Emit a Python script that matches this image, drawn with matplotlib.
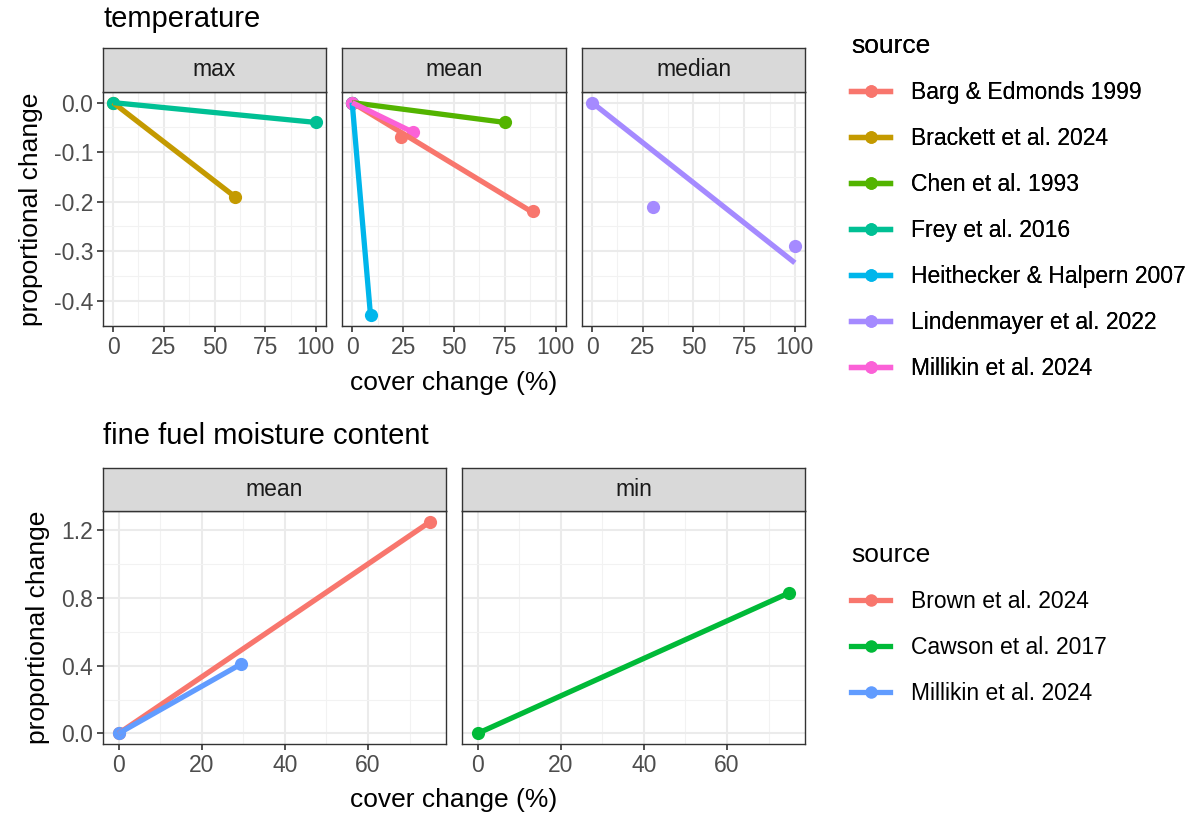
import numpy as np
import matplotlib
matplotlib.use("Agg")
import matplotlib.pyplot as plt
from matplotlib.lines import Line2D
from matplotlib.ticker import MultipleLocator

plt.rcParams['font.family'] = ['Liberation Sans', 'DejaVu Sans']

# temperature data: (panel, source, cover change %, proportional change)
temp_panels = ["max", "mean", "median"]
temp_sources = ["Barg & Edmonds 1999", "Brackett et al. 2024", "Chen et al. 1993",
                "Frey et al. 2016", "Heithecker & Halpern 2007",
                "Lindenmayer et al. 2022", "Millikin et al. 2024"]
temp_colors = ["#F8766D", "#C49A00", "#53B400", "#00C094", "#00B6EB", "#A58AFF", "#FB61D7"]
temp_panel = ["max", "max", "max", "max",
              "mean", "mean", "mean", "mean", "mean", "mean", "mean", "mean", "mean",
              "median", "median", "median"]
temp_source = ["Brackett et al. 2024", "Brackett et al. 2024", "Frey et al. 2016", "Frey et al. 2016",
               "Barg & Edmonds 1999", "Barg & Edmonds 1999", "Barg & Edmonds 1999",
               "Chen et al. 1993", "Chen et al. 1993",
               "Heithecker & Halpern 2007", "Heithecker & Halpern 2007",
               "Millikin et al. 2024", "Millikin et al. 2024",
               "Lindenmayer et al. 2022", "Lindenmayer et al. 2022", "Lindenmayer et al. 2022"]
temp_cover = [0, 60, 0, 100, 0, 24, 89, 0, 75, 0, 9, 0, 30, 0, 30, 100]
temp_change = [0, -0.19, 0, -0.04, 0, -0.07, -0.22, 0, -0.04, 0, -0.43, 0, -0.06, 0, -0.21, -0.29]

# fine fuel moisture content data
ffmc_panels = ["mean", "min"]
ffmc_sources = ["Brown et al. 2024", "Cawson et al. 2017", "Millikin et al. 2024"]
ffmc_colors = ["#F8766D", "#00BA38", "#619CFF"]
ffmc_panel = ["mean", "mean", "mean", "mean", "min", "min"]
ffmc_source = ["Brown et al. 2024", "Brown et al. 2024", "Millikin et al. 2024", "Millikin et al. 2024",
               "Cawson et al. 2017", "Cawson et al. 2017"]
ffmc_cover = [0, 75, 0, 29.5, 0, 75]
ffmc_change = [0, 1.25, 0, 0.41, 0, 0.83]

W, H = 1199, 815
fig = plt.figure(figsize=(W / 100, H / 100), dpi=100)

TICK_FS = 16.5
AXIS_FS = 19
TITLE_FS = 21
DARK = "#333333"


def add_ax(l, t, r, b):
    return fig.add_axes([l / W, 1 - b / H, (r - l) / W, (b - t) / H])


def style_panel(ax, xlim, ylim, xmaj, ymaj, show_y):
    ax.set_xlim(xlim)
    ax.set_ylim(ylim)
    ax.xaxis.set_major_locator(MultipleLocator(xmaj))
    ax.xaxis.set_minor_locator(MultipleLocator(xmaj / 2))
    ax.yaxis.set_major_locator(MultipleLocator(ymaj))
    ax.yaxis.set_minor_locator(MultipleLocator(ymaj / 2))
    ax.grid(True, which="major", color="#EBEBEB", lw=1.5)
    ax.grid(True, which="minor", color="#F2F2F2", lw=0.8)
    ax.set_axisbelow(True)
    for s in ax.spines.values():
        s.set_color(DARK)
        s.set_linewidth(1.0)
    ax.tick_params(which="major", length=4, width=1.2, color=DARK, labelsize=TICK_FS,
                   labelcolor="#4D4D4D", pad=3)
    ax.tick_params(which="minor", length=0)
    if not show_y:
        ax.tick_params(axis="y", which="both", left=False, labelleft=False)


def add_strip(l, t, r, b, label):
    s = add_ax(l, t, r, b)
    s.set_facecolor("#D9D9D9")
    s.set_xticks([])
    s.set_yticks([])
    for sp in s.spines.values():
        sp.set_color(DARK)
        sp.set_linewidth(1.0)
    s.text(0.5, 0.5, label, ha="center", va="center", fontsize=TICK_FS, color="#1A1A1A",
           transform=s.transAxes)


def draw_facet(ax, panel, panels_col, sources_col, xs, ys, sources, colors):
    panels_col = np.array(panels_col)
    sources_col = np.array(sources_col)
    xs = np.array(xs, dtype=float)
    ys = np.array(ys, dtype=float)
    # points
    for src, col in zip(sources, colors):
        m = (panels_col == panel) & (sources_col == src)
        if m.any():
            ax.plot(xs[m], ys[m], "o", color=col, ms=9.5, mec="none", zorder=3)
    # linear fit through origin, over the data range
    for src, col in zip(sources, colors):
        m = (panels_col == panel) & (sources_col == src)
        if m.any():
            x, y = xs[m], ys[m]
            slope = np.sum(x * y) / np.sum(x * x)
            xx = np.array([x.min(), x.max()])
            ax.plot(xx, slope * xx, "-", color=col, lw=3.8, solid_capstyle="butt", zorder=3)


# ---- temperature row ----
top_boxes = [(103, 326), (342, 566), (582, 805)]
tmin = min(temp_change)
tr = max(temp_change) - tmin
for i, (panel, (l, r)) in enumerate(zip(temp_panels, top_boxes)):
    ax = add_ax(l, 92, r, 326)
    style_panel(ax, (-5, 105), (tmin - 0.05 * tr, 0.05 * tr), 25, 0.1, i == 0)
    ax.yaxis.set_major_formatter(matplotlib.ticker.FormatStrFormatter("%.1f"))
    draw_facet(ax, panel, temp_panel, temp_source, temp_cover, temp_change, temp_sources, temp_colors)
    add_strip(l, 48, r, 92, panel)
    if i == 0:
        ax.set_ylabel("proportional change", fontsize=AXIS_FS, color="black", labelpad=8)

fig.text(103 / W, 1 - 27 / H, "temperature", fontsize=TITLE_FS, va="baseline", ha="left")
fig.text(454 / W, 1 - 390 / H, "cover change (%)", fontsize=AXIS_FS, va="baseline", ha="center")

# ---- fine fuel moisture content row ----
bot_boxes = [(103, 446), (462, 805)]
fmax = max(ffmc_change)
xmax = max(ffmc_cover)
for i, (panel, (l, r)) in enumerate(zip(ffmc_panels, bot_boxes)):
    ax = add_ax(l, 511, r, 744)
    style_panel(ax, (-0.05 * xmax, 1.05 * xmax), (-0.05 * fmax, 1.05 * fmax), 20, 0.4, i == 0)
    ax.yaxis.set_major_formatter(matplotlib.ticker.FormatStrFormatter("%.1f"))
    draw_facet(ax, panel, ffmc_panel, ffmc_source, ffmc_cover, ffmc_change, ffmc_sources, ffmc_colors)
    add_strip(l, 468, r, 511, panel)
    if i == 0:
        ax.set_ylabel("proportional change", fontsize=AXIS_FS, color="black", labelpad=8)

fig.text(103 / W, 1 - 444 / H, "fine fuel moisture content", fontsize=TITLE_FS, va="baseline", ha="left")
fig.text(454 / W, 1 - 807 / H, "cover change (%)", fontsize=AXIS_FS, va="baseline", ha="center")


# ---- legends ----
def make_legend(sources, colors, top_px):
    handles = [Line2D([0], [0], color=c, lw=3.8, marker="o", ms=9, mec="none") for c in colors]
    leg = fig.legend(handles, sources, loc="upper left", bbox_to_anchor=(842 / W, 1 - top_px / H),
                     frameon=False, title="source", fontsize=TICK_FS, title_fontsize=AXIS_FS,
                     alignment="left", handlelength=1.7, handletextpad=0.9, labelspacing=1.0,
                     borderaxespad=0)
    return leg


leg1 = make_legend(temp_sources, temp_colors, 25)
fig.add_artist(leg1)
make_legend(ffmc_sources, ffmc_colors, 534)

fig.savefig("out.png", dpi=100)
